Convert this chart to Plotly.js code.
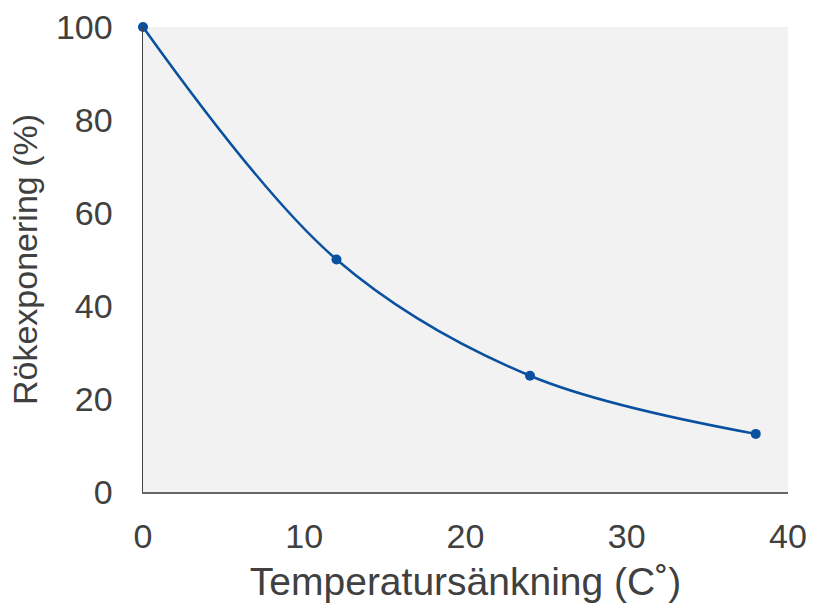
<!DOCTYPE html>
<html>
<head>
<meta charset="utf-8">
<script src="https://cdn.plot.ly/plotly-3.0.1.min.js"></script>
<style>html,body{margin:0;padding:0;background:#fff;}#chart{width:814px;height:610px;}</style>
</head>
<body>
<div id="chart"></div>
<script>
const temperatureDrop = [0, 12, 24, 38];
const smokeExposure = [100, 50, 25, 12.5];
const xTickVals = [0, 10, 20, 30, 40];
const yTickVals = [0, 20, 40, 60, 80, 100];
const xTitle = 'Temperatursänkning (C˚)';
const yTitle = 'Rökexponering (%)';

const fontFam = '"Liberation Sans", Arial, sans-serif';
const textColor = '#404040';

Plotly.newPlot('chart', [{
  x: temperatureDrop,
  y: smokeExposure,
  mode: 'lines+markers',
  type: 'scatter',
  line: {color: '#0a50a0', width: 2.5, shape: 'spline', smoothing: 1},
  marker: {color: '#0a50a0', size: 10},
  cliponaxis: false,
  hoverinfo: 'none'
}], {
  width: 814, height: 610,
  margin: {l: 143, r: 26, t: 27, b: 118},
  paper_bgcolor: '#ffffff',
  plot_bgcolor: '#f2f2f2',
  showlegend: false,
  font: {family: fontFam, color: textColor, size: 34},
  xaxis: {
    range: [0, 40], tickvals: xTickVals, showgrid: false, zeroline: false,
    showline: true, linecolor: '#666666', linewidth: 2,
    ticks: '', ticklabelstandoff: 13,
    tickfont: {family: fontFam, size: 34, color: textColor},
    title: {text: xTitle, font: {family: fontFam, size: 39, color: textColor}, standoff: 14}
  },
  yaxis: {
    range: [0, 100], tickvals: yTickVals, showgrid: false, zeroline: false,
    showline: true, linecolor: '#404040', linewidth: 1.5,
    ticks: '', ticklabelstandoff: 22,
    tickfont: {family: fontFam, size: 34, color: textColor},
    title: {text: yTitle, font: {family: fontFam, size: 34, color: textColor}, standoff: 8}
  }
}, {staticPlot: true});
</script>
</body>
</html>
